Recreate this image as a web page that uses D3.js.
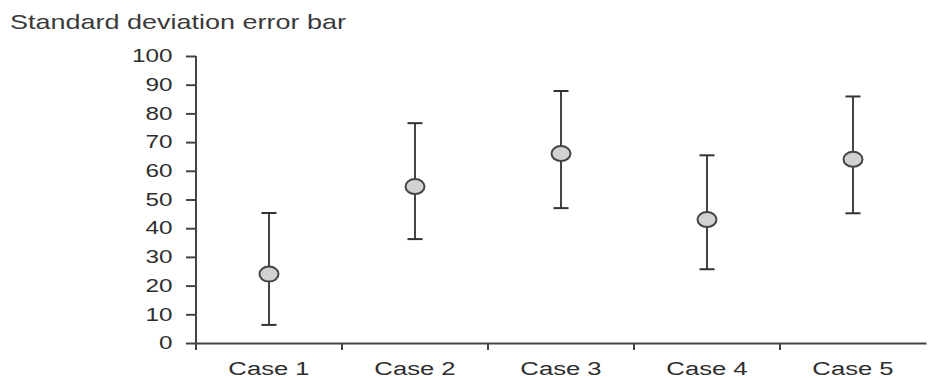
<!DOCTYPE html>
<html>
<head>
<meta charset="utf-8">
<script src="https://cdn.jsdelivr.net/npm/d3@7"></script>
<style>
  body { margin: 0; background: #fff; }
  text { font-family: "Liberation Sans", Arial, sans-serif; fill: #2e2e2e; }
</style>
</head>
<body>
<svg class="chart"></svg>
<script>
// values
var cases = ["Case 1", "Case 2", "Case 3", "Case 4", "Case 5"]
var means = [24, 54.5, 66, 43, 64]
var lows = [6.3, 36.2, 47, 25.7, 45.2]
var highs = [45.3, 76.6, 87.8, 65.4, 85.9]
var yTicks = [0, 10, 20, 30, 40, 50, 60, 70, 80, 90, 100]

var width = 928, height = 378
var margin = { top: 56, right: 2, bottom: 35, left: 196 }
var stretch = 1.35 // the source picture is stretched sideways

var svg = d3.select(".chart")
    .attr("width", width)
    .attr("height", height)

var x = d3.scaleBand()
    .domain(cases)
    .range([margin.left, width - margin.right])

var y = d3.scaleLinear()
    .domain([0, 100])
    .range([height - margin.bottom, margin.top])

// title
svg.append("text")
    .attr("x", 10 / stretch)
    .attr("y", 29)
    .attr("transform", "scale(" + stretch + ",1)")
    .style("font-size", "20px")
    .style("fill", "#3a3a3a")
    .text("Standard deviation error bar")

// y axis
var yAxis = svg.append("g")
    .attr("transform", "translate(" + margin.left + ",0)")
    .call(d3.axisLeft(y).tickValues(yTicks).tickSize(10).tickSizeOuter(0))

yAxis.select(".domain")
    .attr("d", "M0," + y(100) + "V" + (y(0) + 7))
yAxis.selectAll("path, line")
    .attr("stroke", "#444")
    .attr("stroke-width", 2)
yAxis.selectAll("text")
    .attr("x", -17.4)
    .attr("transform", "scale(" + stretch + ",1)")
    .style("font-size", "18px")

// x axis
var xAxis = svg.append("g")
    .attr("transform", "translate(0," + y(0) + ")")
    .call(d3.axisBottom(x).tickSize(0).tickSizeOuter(0))

xAxis.select(".domain")
    .attr("stroke", "#444")
    .attr("stroke-width", 2)
xAxis.selectAll(".tick text")
    .attr("y", 32)
    .attr("dy", 0)
    .attr("transform", "scale(" + stretch + ",1)")
    .style("font-size", "19px")

// band boundary ticks
var bounds = cases.slice(1).map(function(c) { return x(c) })
xAxis.selectAll(".bound")
    .data(bounds)
    .enter()
    .append("line")
    .attr("class", "bound")
    .attr("x1", function(d) { return d })
    .attr("x2", function(d) { return d })
    .attr("y1", 0)
    .attr("y2", 7)
    .attr("stroke", "#444")
    .attr("stroke-width", 2)

// error bars
var bars = svg.append("g")
    .selectAll("g")
    .data(cases)
    .enter()
    .append("g")
    .attr("transform", function(d) { return "translate(" + (x(d) + x.bandwidth() / 2) + ",0)" })

bars.append("line")
    .attr("y1", function(d, i) { return y(lows[i]) })
    .attr("y2", function(d, i) { return y(highs[i]) })
    .attr("stroke", "#444")
    .attr("stroke-width", 2)

bars.append("line")
    .attr("x1", -7.5).attr("x2", 7.5)
    .attr("y1", function(d, i) { return y(highs[i]) })
    .attr("y2", function(d, i) { return y(highs[i]) })
    .attr("stroke", "#333")
    .attr("stroke-width", 2)

bars.append("line")
    .attr("x1", -7.5).attr("x2", 7.5)
    .attr("y1", function(d, i) { return y(lows[i]) })
    .attr("y2", function(d, i) { return y(lows[i]) })
    .attr("stroke", "#333")
    .attr("stroke-width", 2)

bars.append("ellipse")
    .attr("cy", function(d, i) { return y(means[i]) })
    .attr("rx", 9.5)
    .attr("ry", 7.5)
    .attr("fill", "#d2d2d2")
    .attr("stroke", "#444")
    .attr("stroke-width", 2)
</script>
</body>
</html>
